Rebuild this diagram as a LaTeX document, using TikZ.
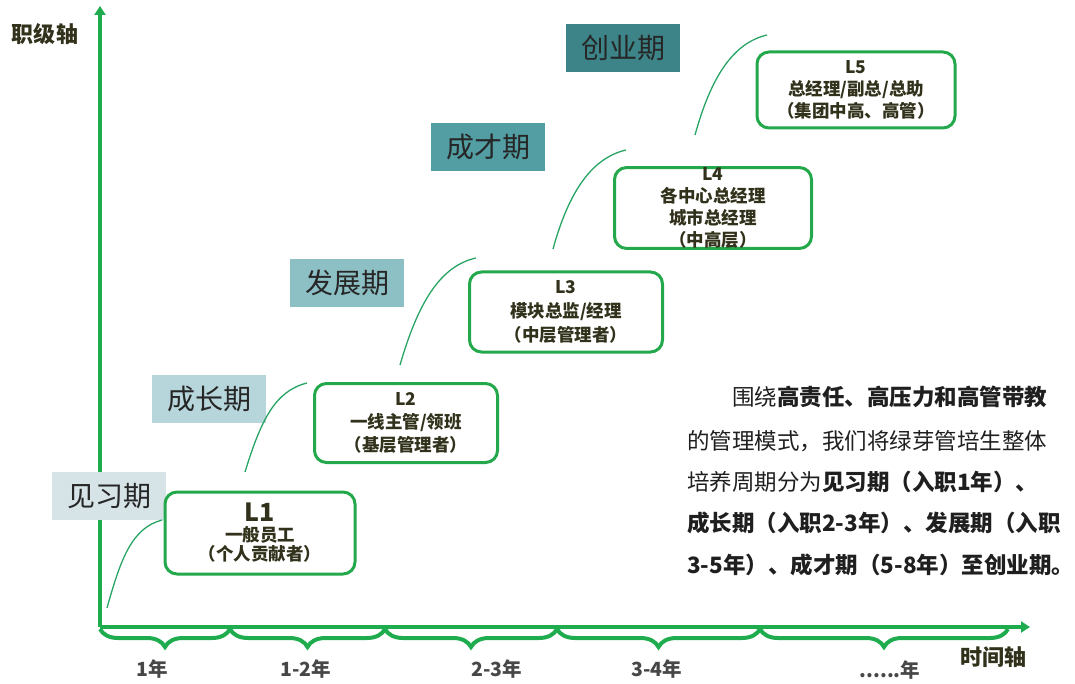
\documentclass[tikz,border=0pt]{standalone}
\usepackage{fontspec}
\newfontfamily\cjk{Noto Sans CJK SC}
\usetikzlibrary{arrows.meta, decorations.pathreplacing}

\definecolor{axisgreen}{RGB}{30,172,78}
\definecolor{boxgreen}{RGB}{36,168,76}
\definecolor{curvegreen}{RGB}{40,165,100}
\definecolor{inktext}{RGB}{50,50,28}
\definecolor{stageA}{RGB}{214,228,232}
\definecolor{stageB}{RGB}{183,214,219}
\definecolor{stageC}{RGB}{141,192,197}
\definecolor{stageD}{RGB}{82,158,163}
\definecolor{stageE}{RGB}{60,132,136}

\begin{document}
\begin{tikzpicture}[x=1pt, y=-1pt,
    axis/.style={draw=axisgreen, line width=4.5pt, -{Triangle[length=9pt,width=11pt]}},
    yrs/.style={draw=axisgreen, line width=4pt,
                decorate, decoration={brace, mirror, amplitude=18pt}},
    lvl/.style={draw=boxgreen, line width=3pt, rounded corners=12pt,
                align=center, inner sep=0pt, text=inktext,
                font=\cjk\bfseries\fontsize{17.5}{22}\selectfont},
    stage/.style={minimum width=114pt, minimum height=48pt, inner sep=0pt,
                  text=black!85, font=\cjk\fontsize{28}{30}\selectfont},
    growth/.style={draw=curvegreen, line width=1.3pt},
    tick/.style={text=black!72, font=\cjk\bfseries\fontsize{19.5}{22}\selectfont},
    axlab/.style={text=inktext, font=\cjk\bfseries\fontsize{22}{24}\selectfont},
    desc/.style={anchor=west, inner sep=0pt, text=black!88,
                 font=\cjk\fontsize{22.5}{24}\selectfont},
]
\useasboundingbox (0,0) rectangle (1075,684);
% --- axes --------------------------------------------------------------------
\coordinate (O) at (100,627);
\coordinate (ytop) at (100,6);
\coordinate (xend) at (1030,627);
\draw[axis] (O) -- (ytop);
\draw[axis] (O) -- (xend);
\node[axlab] (yname) at (45,34) {职级轴};
\node[axlab] (xname) at (993,657) {时间轴};
% --- year braces -------------------------------------------------------------
\coordinate (b0) at (100,629);
\coordinate (b1) at (230,629);
\coordinate (b2) at (385,629);
\coordinate (b3) at (557,629);
\coordinate (b4) at (760,629);
\coordinate (b5) at (1008,629);
\draw[yrs] (b0) -- (b1);
\draw[yrs] (b1) -- (b2);
\draw[yrs] (b2) -- (b3);
\draw[yrs] (b3) -- (b4);
\draw[yrs] (b4) -- (b5);
\node[tick] (y1) at (152,669) {1年};
\node[tick] (y2) at (306,669) {1-2年};
\node[tick] (y3) at (497,669) {2-3年};
\node[tick] (y4) at (657,669) {3-4年};
\node[tick] (y5) at (890,670) {......年};
% --- stages ------------------------------------------------------------------
\node[stage, fill=stageA] (s1) at (109,496) {见习期};
\node[stage, fill=stageB] (s2) at (209,399) {成长期};
\node[stage, fill=stageC] (s3) at (347,283) {发展期};
\node[stage, fill=stageD] (s4) at (488,147) {成才期};
\node[stage, fill=stageE] (s5) at (623,48)  {创业期};
% --- levels ------------------------------------------------------------------
\node[lvl, minimum width=190pt, minimum height=82pt] (L1) at (260,533)
  {{\fontsize{25}{28}\selectfont L1}\\[-2pt] 一般员工\\[-3pt]（个人贡献者）};
\node[lvl, minimum width=183pt, minimum height=79pt] (L2) at (406,423)
  {L2\\[1pt] 一线主管/领班\\[1pt]（基层管理者）};
\node[lvl, minimum width=193pt, minimum height=80pt] (L3) at (566,312)
  {L3\\[2pt] 模块总监/经理\\[2pt]（中层管理者）};
\node[lvl, minimum width=197pt, minimum height=80pt] (L4) at (713,208)
  {L4\\ 各中心总经理\\ 城市总经理\\（中高层）};
\node[lvl, minimum width=198pt, minimum height=76pt] (L5) at (856,90)
  {L5\\ 总经理/副总/总助\\（集团中高、高管）};
% --- growth curves -----------------------------------------------------------
\coordinate (g1) at (107,608); \coordinate (h1) at (162,520);
\coordinate (g2) at (245,472); \coordinate (h2) at (307,383);
\coordinate (g3) at (400,365); \coordinate (h3) at (476,258);
\coordinate (g4) at (553,249); \coordinate (h4) at (626,150);
\coordinate (g5) at (695,135); \coordinate (h5) at (767,35);
\draw[growth] (g1) .. controls +(14,-50) and +(-30,8) .. (h1);
\draw[growth] (g2) .. controls +(16,-52) and +(-32,8) .. (h2);
\draw[growth] (g3) .. controls +(18,-62) and +(-36,8) .. (h3);
\draw[growth] (g4) .. controls +(16,-58) and +(-34,8) .. (h4);
\draw[growth] (g5) .. controls +(16,-58) and +(-34,8) .. (h5);
% --- description -------------------------------------------------------------
\node[desc] (p1) at (687,397) {\hspace{2em}围绕\textbf{高责任、高压力和高管带教}};
\node[desc] (p2) at (687,441) {的管理模式，我们将绿芽管培生整体};
\node[desc] (p3) at (687,482) {培养周期分为\textbf{见习期（入职1年）、}};
\node[desc] (p4) at (687,523) {\textbf{成长期（入职2-3年）、发展期（入职}};
\node[desc] (p5) at (687,565) {\textbf{3-5年）、成才期（5-8年）至创业期。}};
\end{tikzpicture}
\end{document}
